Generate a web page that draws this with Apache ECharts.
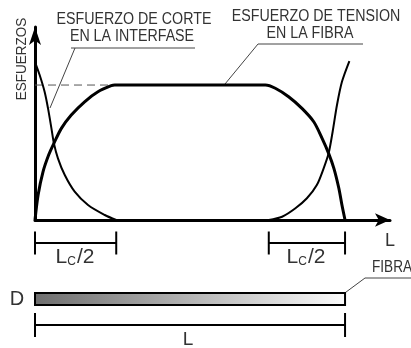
<!DOCTYPE html>
<html>
<head>
<meta charset="utf-8">
<script src="https://cdn.jsdelivr.net/npm/echarts@6/dist/echarts.min.js"></script>
<style>
  html, body { margin: 0; padding: 0; background: #fff; }
  #chart { width: 411px; height: 348px; }
</style>
</head>
<body>
<div id="chart"></div>
<script>
// eje x: posicion a lo largo de la fibra (0..100 = L), eje y: esfuerzo (100 = meseta)
var tensionX = [0, 1, 2.6, 4.4, 6.1, 8.5, 11.7, 16, 20.3, 24.6, 25.7, 74.3, 77.5, 81.8, 86.1, 89.9, 92.6, 94.7, 96.4, 98, 99, 100];
var tensionY = [0, 18.5, 35.8, 48.1, 56.8, 67.9, 77.8, 87.6, 95, 99.5, 100, 100, 97.6, 91.3, 82.7, 72.8, 60.5, 49.4, 38.3, 23.5, 11.1, 0];

var corteIzqX = [0, 1.5, 3.1, 4.2, 5.3, 6.1, 7.4, 9.6, 12.8, 17.1, 22.5, 26.2];
var corteIzqY = [117, 107.4, 95, 82.7, 67.9, 56.8, 45.7, 33.3, 21, 11.1, 3.7, 0];

var corteDerX = [75.4, 79.7, 84, 87.7, 90.9, 93.1, 94.7, 96, 97.4, 99, 101.4];
var corteDerY = [0, 2.4, 8.7, 16.1, 25.9, 38.3, 49.4, 65.4, 85.2, 102.4, 117.8];

var mesetaX = [0, 25.7];
var mesetaY = [100, 100];

// cotas (en unidades de L)
var lcMedioIzq = [0, 26.2];
var lcMedioDer = [75.4, 100];
var largoFibra = [0, 100];

function zip(xs, ys) {
  return xs.map(function (x, i) { return [x, ys[i]]; });
}

var chart = echarts.init(document.getElementById('chart'));
var FONT = '"Liberation Sans", Arial, sans-serif';
var TXT = '#333';

// cota: linea horizontal con dos marcas verticales
function cota(extremos, fila, medio) {
  return {
    type: 'custom',
    xAxisIndex: 1,
    yAxisIndex: 1,
    silent: true,
    data: [extremos],
    renderItem: function (params, api) {
      var a = api.coord([api.value(0), fila]);
      var b = api.coord([api.value(1), fila]);
      var st = { stroke: '#000', lineWidth: 2 };
      return {
        type: 'group',
        children: [
          { type: 'line', shape: { x1: a[0], y1: a[1], x2: b[0], y2: b[1] }, style: st },
          { type: 'line', shape: { x1: a[0], y1: a[1] - medio, x2: a[0], y2: a[1] + medio }, style: st },
          { type: 'line', shape: { x1: b[0], y1: b[1] - medio, x2: b[0], y2: b[1] + medio }, style: st }
        ]
      };
    }
  };
}

function texto(t, x, y, size, extra) {
  var el = {
    type: 'text', x: x, y: y, scaleX: 0.89, silent: true,
    style: { text: t, fontSize: size, fontFamily: FONT, fill: TXT, textAlign: 'center', textVerticalAlign: 'middle' }
  };
  return Object.assign(el, extra || {});
}

function lcLabel(x) {
  return {
    type: 'text', x: x, y: 257, silent: true,
    style: {
      text: '{a|L}{b|C}{a|/2}',
      textAlign: 'center', textVerticalAlign: 'middle',
      rich: {
        a: { fontSize: 21, fontFamily: FONT, fill: TXT },
        b: { fontSize: 12, fontFamily: FONT, fill: TXT, verticalAlign: 'bottom', padding: [0, 1, 0, 0] }
      }
    }
  };
}

function guia(points) {
  return { type: 'polyline', silent: true, shape: { points: points }, style: { stroke: '#444', lineWidth: 1, fill: null } };
}

var option = {
  animation: false,
  backgroundColor: '#fff',
  grid: [
    { left: 35, right: 21, top: 27, bottom: 128 },
    { left: 35, right: 21, top: 220, bottom: 0 }
  ],
  xAxis: [{
    type: 'value', min: 0, max: 114.5,
    axisLine: { show: true, onZero: false, symbol: ['none', 'arrow'], symbolSize: [10, 15], lineStyle: { color: '#000', width: 3 } },
    axisTick: { show: false }, axisLabel: { show: false }, splitLine: { show: false }
  }, {
    gridIndex: 1, type: 'value', min: 0, max: 114.5, show: false
  }],
  yAxis: [{
    type: 'value', min: 0, max: 143,
    axisLine: { show: true, onZero: false, symbol: ['none', 'arrow'], symbolSize: [9, 18], lineStyle: { color: '#000', width: 3 } },
    axisTick: { show: false }, axisLabel: { show: false }, splitLine: { show: false }
  }, {
    gridIndex: 1, type: 'value', min: 0, max: 128, inverse: true, show: false
  }],
  series: [
    {
      type: 'line', data: zip(mesetaX, mesetaY), showSymbol: false, silent: true,
      lineStyle: { color: '#555', width: 1, type: [8, 5] }
    },
    {
      type: 'line', data: zip(tensionX, tensionY), showSymbol: false, smooth: 0.3, silent: true,
      lineStyle: { color: '#000', width: 3 }
    },
    {
      type: 'line', data: zip(corteIzqX, corteIzqY), showSymbol: false, smooth: 0.3, silent: true,
      lineStyle: { color: '#000', width: 2 }
    },
    {
      type: 'line', data: zip(corteDerX, corteDerY), showSymbol: false, smooth: 0.3, silent: true,
      lineStyle: { color: '#000', width: 2 }
    },
    cota(lcMedioIzq, 23, 11.5),
    cota(lcMedioDer, 23, 11.5),
    cota(largoFibra, 105, 12),
    {
      type: 'custom', xAxisIndex: 1, yAxisIndex: 1, silent: true,
      data: [largoFibra],
      renderItem: function (params, api) {
        var a = api.coord([api.value(0), 73]);
        var b = api.coord([api.value(1), 85]);
        return {
          type: 'rect',
          shape: { x: a[0], y: a[1], width: b[0] - a[0], height: b[1] - a[1] },
          style: {
            fill: new echarts.graphic.LinearGradient(0, 0, 1, 0, [
              { offset: 0, color: '#6e6e6e' },
              { offset: 1, color: '#fbfbfb' }
            ]),
            stroke: '#000', lineWidth: 2
          }
        };
      }
    }
  ],
  graphic: [
    texto('ESFUERZO DE CORTE', 134, 20, 16),
    texto('EN LA INTERFASE', 132, 37, 16),
    guia([[195, 48], [71, 48]]),
    guia([[75, 48], [50, 108]]),
    texto('ESFUERZO DE TENSION', 316, 17, 16),
    texto('EN LA FIBRA', 310, 34, 16),
    guia([[363, 44], [258, 44], [225, 84]]),
    texto('ESFUERZOS', 22, 59, 15, { rotation: Math.PI / 2, scaleX: 0.9 }),
    texto('L', 390, 241, 18, { scaleX: 1 }),
    lcLabel(75),
    lcLabel(306),
    texto('FIBRA', 372, 268, 16, {
      scaleX: 0.85,
      style: { text: 'FIBRA', fontSize: 16, fontFamily: FONT, fill: TXT, textAlign: 'left', textVerticalAlign: 'middle' }
    }),
    guia([[411, 278], [365, 278], [338, 298]]),
    texto('D', 17, 299, 20, { scaleX: 1 }),
    texto('L', 188, 340, 19, { scaleX: 1 })
  ]
};

chart.setOption(option);
</script>
</body>
</html>
